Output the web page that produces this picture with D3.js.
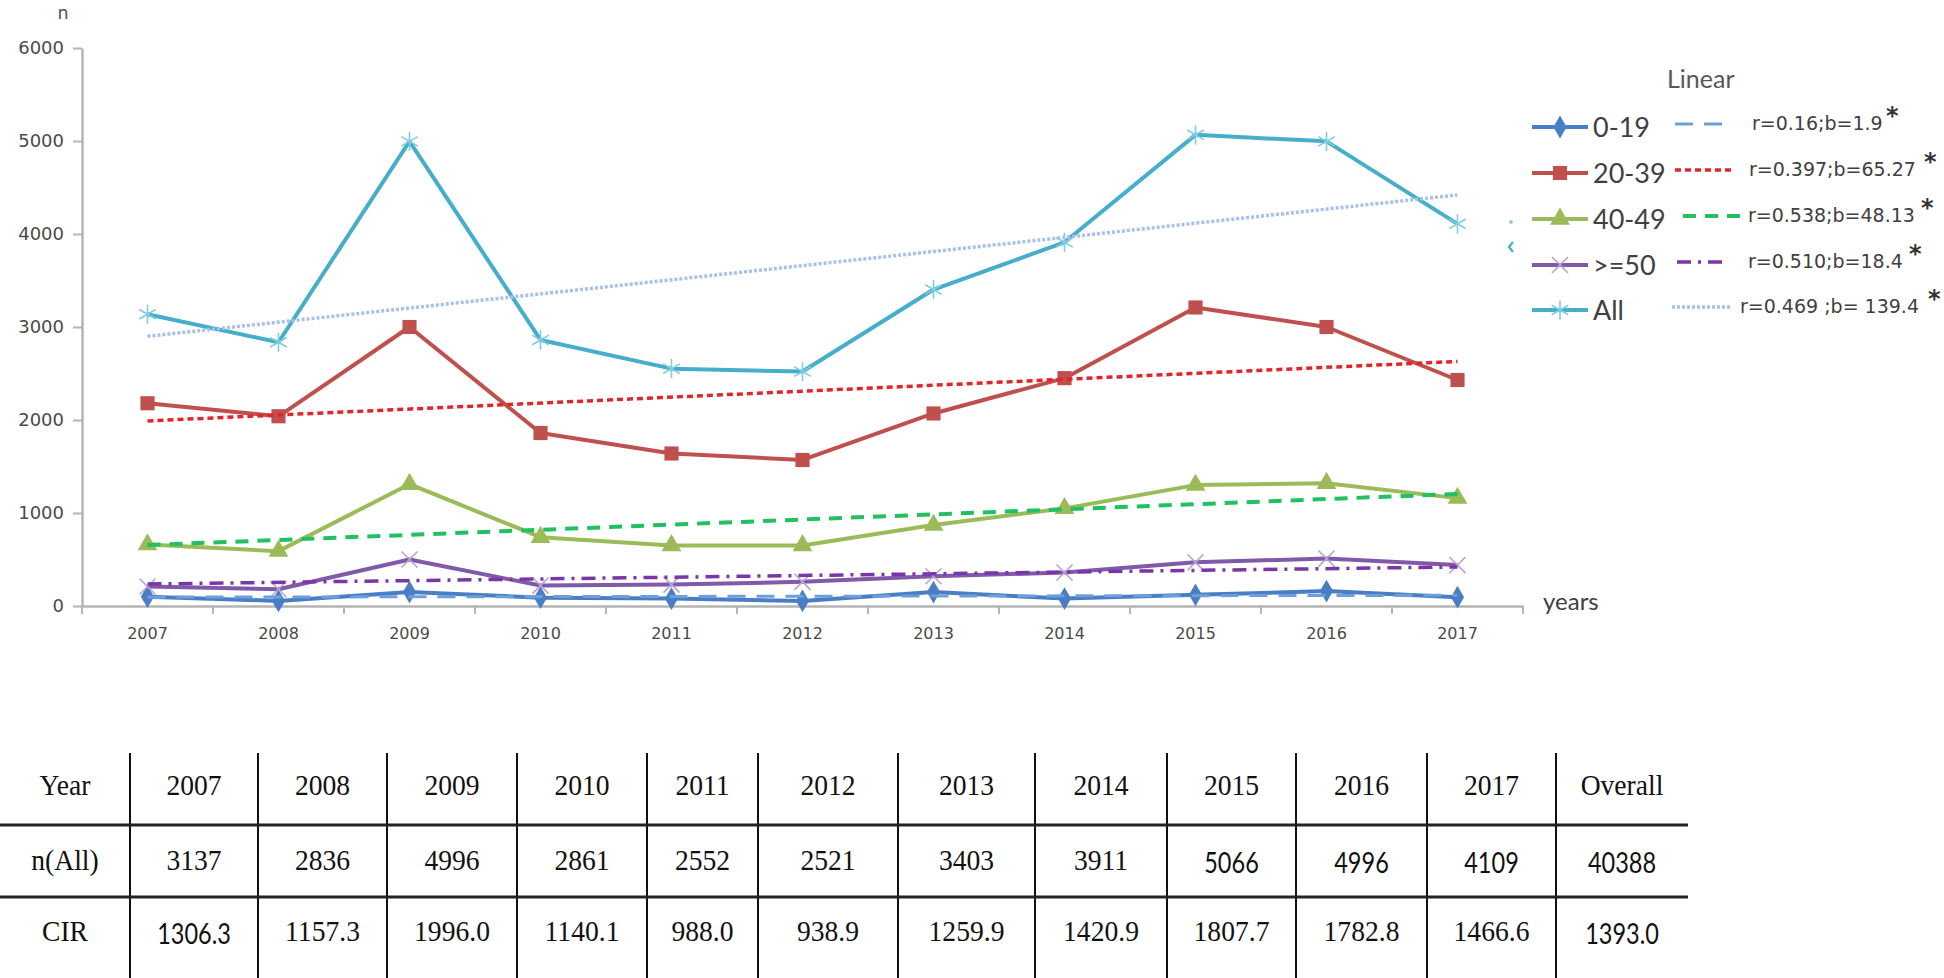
<!DOCTYPE html>
<html>
<head>
<meta charset="utf-8">
<script src="https://cdn.jsdelivr.net/npm/d3@7"></script>
<style>
  html, body { margin: 0; padding: 0; background: #fff; }
  svg { display: block; }
</style>
</head>
<body>
<script>
// ---------- data ----------
const years = [2007, 2008, 2009, 2010, 2011, 2012, 2013, 2014, 2015, 2016, 2017];
const seriesNames = ["0-19", "20-39", "40-49", ">=50", "All"];
const age0_19  = [100, 55, 150, 90, 80, 55, 150, 80, 120, 160, 95];
const age20_39 = [2180, 2040, 3000, 1860, 1640, 1570, 2070, 2450, 3210, 3000, 2430];
const age40_49 = [660, 590, 1310, 740, 650, 650, 870, 1050, 1300, 1320, 1160];
const age50up  = [210, 180, 500, 220, 230, 260, 320, 360, 470, 510, 440];
const allAges  = [3137, 2836, 4996, 2861, 2552, 2521, 3403, 3911, 5066, 4996, 4109];
// linear trend values at 2007 and 2017
const trend0_19  = [95, 115];
const trend20_39 = [1990, 2630];
const trend40_49 = [655, 1205];
const trend50up  = [236, 420];
const trendAll   = [2900, 4420];
const trendLabels = ["r=0.16;b=1.9", "r=0.397;b=65.27", "r=0.538;b=48.13", "r=0.510;b=18.4", "r=0.469 ;b= 139.4"];
const yTicks = [0, 1000, 2000, 3000, 4000, 5000, 6000];
// table
const tableHeader = ["Year", "2007", "2008", "2009", "2010", "2011", "2012", "2013", "2014", "2015", "2016", "2017", "Overall"];
const tableNAll = ["n(All)", "3137", "2836", "4996", "2861", "2552", "2521", "3403", "3911", "5066", "4996", "4109", "40388"];
const tableCIR = ["CIR", "1306.3", "1157.3", "1996.0", "1140.1", "988.0", "938.9", "1259.9", "1420.9", "1807.7", "1782.8", "1466.6", "1393.0"];

// ---------- layout / styles ----------
const W = 1944, H = 978;
const svg = d3.select("body").append("svg").attr("width", W).attr("height", H);

const x = d3.scaleBand().domain(years).range([82, 1523]).padding(0);
const xc = d => x(d) + x.bandwidth() / 2;
const y = d3.scaleLinear().domain([0, 6000]).range([606, 48]);

const styles = [
  { color: "#4A7EC4", symbol: d3.symbolDiamond, size: 150, fill: true,
    tColor: "#6C9FDC", tDash: "18,11", tWidth: 3, trend: trend0_19, data: age0_19 },
  { color: "#C0504D", symbol: d3.symbolSquare, size: 200, fill: true,
    tColor: "#E0262A", tDash: "6,4", tWidth: 3.5, trend: trend20_39, data: age20_39 },
  { color: "#9BBB59", symbol: d3.symbolTriangle, size: 170, fill: true,
    tColor: "#22C062", tDash: "13,9", tWidth: 4, trend: trend40_49, data: age40_49 },
  { color: "#8059A8", symbol: d3.symbolTimes, size: 170, fill: false, mColor: "#B7A3D4",
    tColor: "#7A35A8", tDash: "14,7,3,7", tWidth: 3.5, trend: trend50up, data: age50up },
  { color: "#45AECB", symbol: d3.symbolAsterisk, size: 260, fill: false, mColor: "#7FCCE2",
    tColor: "#A9C1EA", tDash: "3,2", tWidth: 3.5, trend: trendAll, data: allAges }
];

const axisColor = "#B4B4B4";
const labelFont = "'DejaVu Sans', sans-serif";
const legendFont = "Lato, 'Open Sans', sans-serif";

// ---------- axes ----------
const yAxis = svg.append("g").attr("transform", "translate(82,0)")
  .call(d3.axisLeft(y).tickValues(yTicks).tickSize(9).tickSizeOuter(0).tickPadding(9).tickFormat(d3.format("d")));
yAxis.select(".domain").attr("stroke", axisColor).attr("stroke-width", 2.5);
yAxis.selectAll(".tick line").attr("stroke", axisColor).attr("stroke-width", 2);
yAxis.selectAll(".tick text").attr("font-family", labelFont).attr("font-size", 18).attr("fill", "#4A4A4A");

const xAxis = svg.append("g").attr("transform", "translate(0,606)")
  .call(d3.axisBottom(x).tickSize(0).tickSizeOuter(0).tickPadding(22));
xAxis.select(".domain").attr("stroke", axisColor).attr("stroke-width", 2.5);
xAxis.selectAll(".tick text").attr("font-family", labelFont).attr("font-size", 16).attr("fill", "#4A4A4A");
// boundary ticks between categories
const bounds = d3.range(years.length + 1).map(i => x.range()[0] + i * x.bandwidth());
svg.append("g").selectAll("line").data(bounds).join("line")
  .attr("x1", d => d).attr("x2", d => d).attr("y1", 606).attr("y2", 614)
  .attr("stroke", axisColor).attr("stroke-width", 2);

svg.append("text").attr("x", 63).attr("y", 19).attr("text-anchor", "middle")
  .attr("font-family", legendFont).attr("font-size", 19).attr("fill", "#595959").text("n");
svg.append("text").attr("x", 1543).attr("y", 610)
  .attr("font-family", legendFont).attr("font-size", 24).attr("fill", "#404040").text("years");

// ---------- series ----------
const line = d3.line().x((d, i) => xc(years[i])).y(d => y(d));
const symbolPath = (s) => d3.symbol().type(s.symbol).size(s.size)();

const gSeries = svg.append("g");
styles.forEach(s => {
  gSeries.append("path").datum(s.data).attr("d", line)
    .attr("fill", "none").attr("stroke", s.color).attr("stroke-width", 4)
    .attr("stroke-linejoin", "round");
  gSeries.append("g").selectAll("path").data(s.data).join("path")
    .attr("transform", (d, i) => `translate(${xc(years[i])},${y(d)})`)
    .attr("d", symbolPath(s))
    .attr("fill", s.fill ? s.color : "none")
    .attr("stroke", s.fill ? "none" : s.mColor)
    .attr("stroke-width", s.fill ? 0 : 1.6);
});

// trend lines
const tLine = d3.line().x((d, i) => xc(i === 0 ? years[0] : years[years.length - 1])).y(d => y(d));
styles.forEach(s => {
  svg.append("path").datum(s.trend).attr("d", tLine)
    .attr("fill", "none").attr("stroke", s.tColor).attr("stroke-width", s.tWidth)
    .attr("stroke-dasharray", s.tDash);
});

// small stray marks near the legend (as in the original figure)
svg.append("circle").attr("cx", 1511).attr("cy", 222).attr("r", 1.8).attr("fill", "#8FB4E6");
svg.append("path").attr("d", "M1513,242 L1509,247 L1513,252").attr("fill", "none")
  .attr("stroke", "#45AECB").attr("stroke-width", 2.2);

// ---------- legend ----------
svg.append("text").attr("x", 1667).attr("y", 88)
  .attr("font-family", legendFont).attr("font-size", 25).attr("fill", "#595959").text("Linear");

const rowY = [127, 173, 219, 265, 310];
const tSampleX = [[1675, 1731], [1675, 1735], [1683, 1742], [1677, 1725], [1672, 1730]];
const tTextX = [1752, 1749, 1748, 1748, 1740];
const starX = [1886, 1924, 1921, 1909, 1928];
const lg = svg.append("g");
styles.forEach((s, i) => {
  const cy = rowY[i];
  lg.append("line").attr("x1", 1532).attr("x2", 1588).attr("y1", cy).attr("y2", cy)
    .attr("stroke", s.color).attr("stroke-width", 4);
  lg.append("path").attr("transform", `translate(1560,${cy})`).attr("d", symbolPath(s))
    .attr("fill", s.fill ? s.color : "none")
    .attr("stroke", s.fill ? "none" : s.mColor).attr("stroke-width", s.fill ? 0 : 1.6);
  lg.append("text").attr("x", 1593).attr("y", cy + 10)
    .attr("font-family", legendFont).attr("font-size", 27).attr("fill", "#404040").text(seriesNames[i]);
  lg.append("line").attr("x1", tSampleX[i][0]).attr("x2", tSampleX[i][1]).attr("y1", cy - 3).attr("y2", cy - 3)
    .attr("stroke", s.tColor).attr("stroke-width", s.tWidth).attr("stroke-dasharray", s.tDash);
  lg.append("text").attr("x", tTextX[i]).attr("y", cy + 3)
    .attr("font-family", labelFont).attr("font-size", 19).attr("fill", "#404040").text(trendLabels[i]);
  lg.append("text").attr("x", starX[i]).attr("y", cy - 3)
    .attr("font-family", labelFont).attr("font-size", 24).attr("font-weight", "bold").attr("fill", "#333").text("*");
});

// ---------- table ----------
const colEdges = [0, 130, 258, 387, 517, 647, 758, 898, 1035, 1167, 1296, 1427, 1556, 1688];
const sansCells = new Set(["1-9", "1-10", "1-11", "1-12", "2-1", "2-12"]);
const rows = [tableHeader, tableNAll, tableCIR];
const baselines = [795, 870, 941];
const tg = svg.append("g");
colEdges.slice(1, colEdges.length - 1).forEach(xe => {
  tg.append("line").attr("x1", xe).attr("x2", xe).attr("y1", 753).attr("y2", 978)
    .attr("stroke", "#111").attr("stroke-width", 2);
});
[825, 897].forEach(yy => {
  tg.append("line").attr("x1", 0).attr("x2", colEdges[colEdges.length - 1]).attr("y1", yy).attr("y2", yy)
    .attr("stroke", "#222").attr("stroke-width", 3);
});
rows.forEach((row, r) => {
  row.forEach((txt, c) => {
    const cx = (colEdges[c] + colEdges[c + 1]) / 2;
    const sans = sansCells.has(`${r}-${c}`);
    tg.append("text")
      .attr("transform", `translate(${cx},${baselines[r] + (sans ? 3 : 0)}) scale(${sans ? 0.84 : 0.92},1)`)
      .attr("text-anchor", "middle")
      .attr("font-family", sans ? legendFont : "'Liberation Serif', 'Times New Roman', serif")
      .attr("font-size", sans ? 28 : 30)
      .attr("fill", "#111")
      .text(txt);
  });
});
</script>
</body>
</html>
